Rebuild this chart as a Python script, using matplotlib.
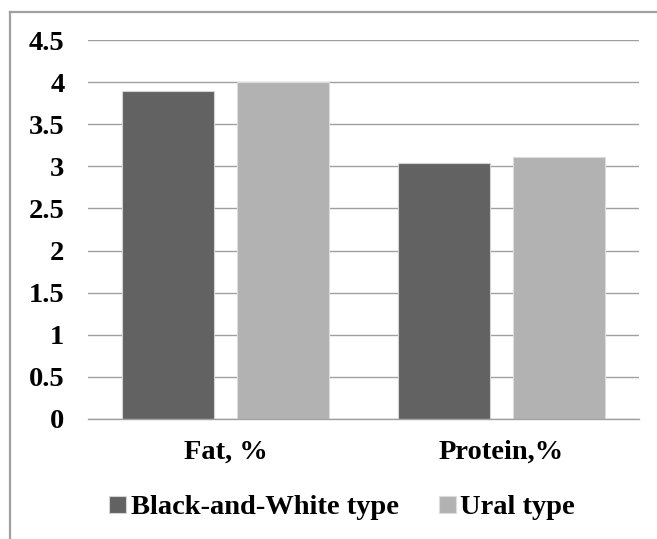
import matplotlib.pyplot as plt
import numpy as np
from matplotlib.lines import Line2D

# 数据
categories = ["Fat, %", "Protein,%"]
series_names = ["Black-and-White type", "Ural type"]
black_white = [3.89, 3.04]
ural = [4.00, 3.11]
y_ticks = [0, 0.5, 1, 1.5, 2, 2.5, 3, 3.5, 4, 4.5]
y_tick_labels = ["0", "0.5", "1", "1.5", "2", "2.5", "3", "3.5", "4", "4.5"]

plt.rcParams["font.family"] = ["Liberation Serif", "DejaVu Serif"]
plt.rcParams["font.weight"] = "bold"
FS = 20.5

W, H = 657, 539
fig = plt.figure(figsize=(W / 100, H / 100), dpi=100)
ax = fig.add_axes([88 / W, 1 - 419 / H, (639 - 88) / W, (419 - 40) / H])

x = np.arange(len(categories))
width = 0.334
offset = 0.208
ax.bar(x - offset, black_white, width, color="#626262", edgecolor="#d4d4d4",
       linewidth=0.8, label=series_names[0], zorder=3)
ax.bar(x + offset, ural, width, color="#b2b2b2", edgecolor="#dcdcdc",
       linewidth=0.8, label=series_names[1], zorder=3)

ax.set_xlim(-0.5, 1.5)
ax.set_ylim(0, 4.5)
ax.set_yticks(y_ticks)
ax.set_yticklabels(y_tick_labels, fontsize=FS, fontweight="bold")
ax.set_xticks(x)
ax.set_xticklabels(categories, fontsize=FS, fontweight="bold")
ax.tick_params(axis="y", length=0, pad=17)
ax.tick_params(axis="x", length=0, pad=15)

ax.yaxis.grid(True, color="#a0a0a0", linewidth=1.0)
ax.set_axisbelow(True)
for side in ["left", "right", "top"]:
    ax.spines[side].set_visible(False)
ax.spines["bottom"].set_color("#a0a0a0")
ax.spines["bottom"].set_linewidth(1.0)
ax.spines["bottom"].set_zorder(4)

# 图表外框（左、上）
fig.add_artist(Line2D([10 / W, 10 / W], [0, 1 - 12 / H], transform=fig.transFigure,
                      color="#a0a0a0", linewidth=1.6))
fig.add_artist(Line2D([10 / W, 1], [1 - 12 / H, 1 - 12 / H], transform=fig.transFigure,
                      color="#a0a0a0", linewidth=1.6))

fig.legend(loc="center", bbox_to_anchor=(342 / W, 1 - 508 / H), ncol=2, frameon=False,
           prop={"size": FS, "weight": "bold"}, handlelength=0.6, handleheight=0.56,
           handletextpad=0.15, columnspacing=1.4)

fig.savefig("out.png", dpi=100)
